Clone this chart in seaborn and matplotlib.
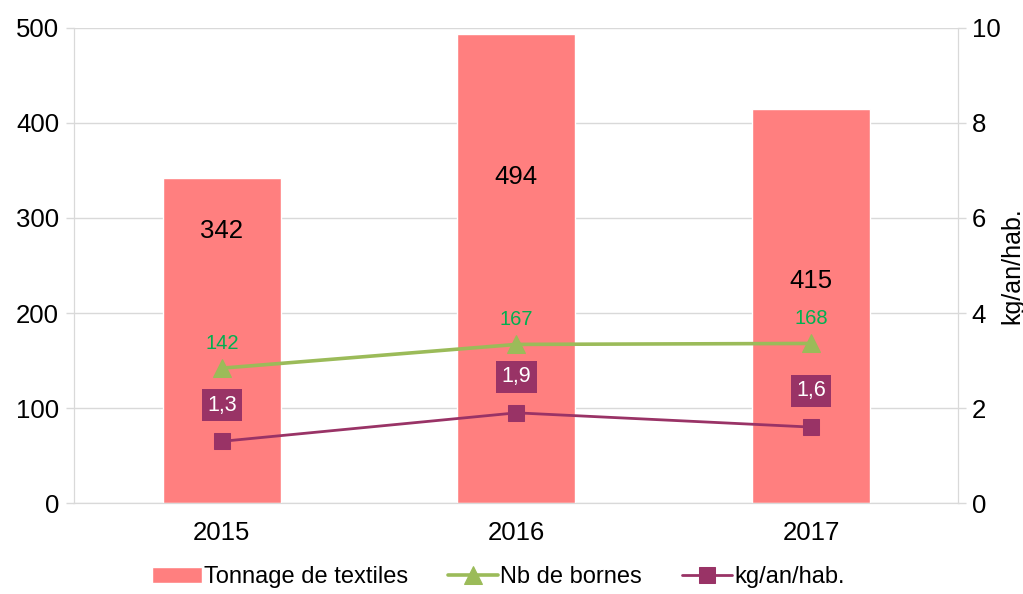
import matplotlib
matplotlib.use("Agg")
import matplotlib.pyplot as plt
import seaborn as sns
import pandas as pd

# données
annees = ["2015", "2016", "2017"]
tonnage = [342, 494, 415]
nb_bornes = [142, 167, 168]
kg_hab = [1.3, 1.9, 1.6]

# décalage vertical des étiquettes du tonnage (en points)
decal_tonnage = [-38, -103, -124]

rouge = "#FF7F7F"
vert = "#9BBB59"
vert_txt = "#00B050"
violet = "#993366"
gris = "#D9D9D9"

df = pd.DataFrame({"annee": annees, "tonnage": tonnage,
                   "bornes": nb_bornes, "kg": kg_hab})

sns.set_style("white")
plt.rcParams["font.family"] = ["Liberation Sans", "DejaVu Sans"]
plt.rcParams["text.color"] = "black"

fig = plt.figure(figsize=(10.23, 5.94), dpi=100)
ax = fig.add_axes([0.0728, 0.153, 0.864, 0.8])

sns.barplot(data=df, x="annee", y="tonnage", color=rouge, width=0.4,
            saturation=1, ax=ax, label="Tonnage de textiles", zorder=2)
sns.lineplot(data=df, x="annee", y="bornes", color=vert, linewidth=2.6,
             marker="^", markersize=13, markeredgecolor=vert, ax=ax,
             label="Nb de bornes", zorder=3)

ax2 = ax.twinx()
sns.lineplot(data=df, x="annee", y="kg", color=violet, linewidth=2,
             marker="s", markersize=11, markeredgecolor=violet, ax=ax2,
             label="kg/an/hab.", zorder=3)

ax.set_xlim(-0.5, 2.5)
ax.set_ylim(0, 500)
ax2.set_ylim(0, 10)
ax.set_yticks(range(0, 501, 100))
ax2.set_yticks(range(0, 11, 2))
ax.set_xticks([0.5, 1.5], minor=True)

ax.yaxis.grid(True, color=gris, linewidth=1, zorder=0)
ax.set_axisbelow(True)

for a in (ax, ax2):
    for s in a.spines.values():
        s.set_color(gris)
    a.spines["top"].set_visible(False)
    a.tick_params(axis="both", which="both", colors=gris, labelcolor="black",
                  labelsize=18.5, length=6, width=1)
ax.tick_params(axis="y", pad=5)
ax.tick_params(axis="x", which="major", length=0, pad=13)
ax.tick_params(axis="x", which="minor", length=8, direction="out")

ax.set_xlabel("")
ax.set_ylabel("")
ax2.set_xlabel("")
ax2.set_ylabel("kg/an/hab.", fontsize=18, labelpad=0, color="black")

for i, (t, b, k) in enumerate(zip(tonnage, nb_bornes, kg_hab)):
    ax.annotate(str(t), (i, t), xytext=(0, decal_tonnage[i]),
                textcoords="offset points", ha="center", va="center",
                fontsize=18.5, color="black")
    ax.annotate(str(b), (i, b), xytext=(0, 18), textcoords="offset points",
                ha="center", va="center", fontsize=14.5, color=vert_txt)
    ax2.annotate(f"{k:.1f}".replace(".", ","), (i, k), xytext=(0, 26),
                 textcoords="offset points", ha="center", va="center",
                 fontsize=15.5, color="white",
                 bbox=dict(boxstyle="square,pad=0.25", fc=violet, ec="none"))

h1, l1 = ax.get_legend_handles_labels()
h2, l2 = ax2.get_legend_handles_labels()
ax2.get_legend().remove()
ax.get_legend().remove()
poignees = dict(zip(l1 + l2, h1 + h2))
ordre = ["Tonnage de textiles", "Nb de bornes", "kg/an/hab."]
fig.legend([poignees[n] for n in ordre], ordre, loc="center",
           bbox_to_anchor=(0.487, 0.028), ncol=3, frameon=False, fontsize=17,
           handlelength=2.1, columnspacing=1.7, handletextpad=0.1,
           labelcolor="black")

fig.savefig("out.png", dpi=100)
